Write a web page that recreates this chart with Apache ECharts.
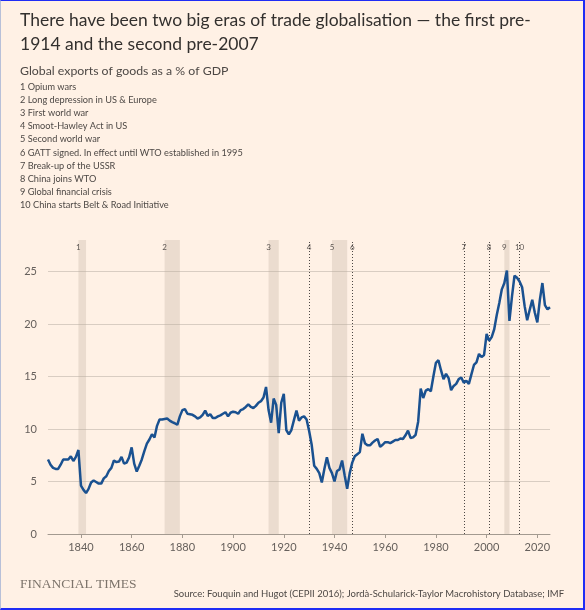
<!DOCTYPE html>
<html>
<head>
<meta charset="utf-8">
<title>Trade globalisation</title>
<script src="https://cdn.jsdelivr.net/npm/echarts@6.0.0/dist/echarts.min.js"></script>
<style>
  html, body { margin: 0; padding: 0; background: #fff1e5; }
  #chart { width: 585px; height: 610px; }
  #frame {
    position: absolute; left: 0; top: 0; width: 585px; height: 610px;
    box-sizing: border-box; pointer-events: none;
    border: 2px solid #1f2cf5; border-top-width: 1px; border-left: 1px solid #b8c0d8;
  }
</style>
</head>
<body>
<div id="chart"></div>
<div id="frame"></div>
<script>
/** data start */
var firstYear = 1827;

// global exports of goods, % of GDP, one value per year from 1827
var exportShare = [
    7.1, 6.6, 6.3,
    6.2, 6.2, 6.6, 7.1, 7.1, 7.1, 7.4, 6.95, 7.35, 8.0,
    4.6, 4.2, 3.9, 4.3, 4.9, 5.1, 4.95, 4.8, 4.8, 5.3,
    5.5, 6.0, 6.3, 7.0, 6.85, 6.9, 7.35, 6.7, 6.8, 7.3,
    8.25, 6.7, 5.95, 6.5, 7.1, 7.9, 8.6, 9.0, 9.5, 9.2,
    10.3, 10.9, 10.9, 10.95, 11.0, 10.8, 10.65, 10.55, 10.4, 11.2,
    11.8, 11.9, 11.45, 11.4, 11.35, 11.2, 11.0, 11.1, 11.35, 11.75,
    11.25, 11.4, 11.05, 11.05, 11.2, 11.3, 11.45, 11.6, 11.2, 11.55,
    11.65, 11.6, 11.45, 11.8, 11.9, 12.1, 12.35, 12.1, 12.0, 12.2,
    12.5, 12.65, 13.0, 14.0, 11.8, 10.6, 12.9, 12.3, 9.6, 12.5,
    13.35, 9.9, 9.5, 9.9, 10.85, 11.75, 10.8, 11.1, 11.2, 10.9,
    9.8, 8.5, 6.5, 6.2, 5.8, 4.9, 6.2, 7.3, 6.3, 5.8,
    5.0, 6.0, 6.15, 7.0, 5.6, 4.3, 5.8, 6.8, 7.4, 7.6,
    7.8, 9.55, 8.65, 8.45, 8.45, 8.7, 8.9, 9.05, 8.3, 8.5,
    8.75, 8.75, 8.65, 8.8, 8.95, 8.95, 9.1, 9.05, 9.4, 9.85,
    9.15, 9.2, 9.45, 10.7, 13.85, 12.95, 13.65, 13.8, 13.6, 15.0,
    16.3, 16.55, 15.6, 14.75, 15.25, 14.85, 13.7, 14.1, 14.3, 14.75,
    14.9, 14.4, 14.6, 14.3, 15.2, 16.1, 16.35, 17.15, 16.85, 17.05,
    19.05, 18.4, 18.75, 19.5, 20.85, 22.0, 23.3, 23.9, 25.1, 20.3,
    22.6, 24.6, 24.4, 24.05, 23.5, 21.7, 20.35, 21.35, 22.3, 21.1,
    20.15, 22.3, 23.9, 21.8, 21.4, 21.6
];

// shaded periods (wars, depression, crisis)
var bandStarts = [1839, 1873, 1914, 1939, 2007];
var bandEnds = [1842, 1879, 1918, 1945, 2009];

// single-year events drawn as dotted lines
var eventYears = [1930, 1947, 1991, 2001, 2013];

// numbered markers above the plot
var markerYears = [1839, 1873, 1914, 1930, 1939, 1947, 1991, 2001, 2007, 2013];
var markerNumbers = ['1', '2', '3', '4', '5', '6', '7', '8', '9', '10'];

var eventNotes = [
    '1 Opium wars',
    '2 Long depression in US & Europe',
    '3 First world war',
    '4 Smoot-Hawley Act in US',
    '5 Second world war',
    '6 GATT signed. In effect until WTO established in 1995',
    '7 Break-up of the USSR',
    '8 China joins WTO',
    '9 Global financial crisis',
    '10 China starts Belt & Road Initiative'
];

var xTicks = [1840, 1860, 1880, 1900, 1920, 1940, 1960, 1980, 2000, 2020];
var yMin = 0;
var yMax = 28;
var yStep = 5;
/** data end */

(function () {

    var FONT = 'Lato, "Noto Sans", sans-serif';
    var markerLevel = 27.25;

    var lineData = exportShare.map(function (v, i) {
        return [firstYear + i, v];
    });

    var bands = bandStarts.map(function (s, i) {
        return [{ xAxis: s }, { xAxis: bandEnds[i] }];
    });

    var events = eventYears.map(function (y) {
        return { xAxis: y };
    });

    var markers = markerYears.map(function (y, i) {
        return [y, markerLevel, markerNumbers[i]];
    });

    var option = {
        backgroundColor: '#fff1e5',
        animation: false,
        title: [
            {
                text: 'There have been two big eras of trade globalisation \u2014 the first pre-\n1914 and the second pre-2007',
                left: 20, top: 8, padding: 0,
                textStyle: { fontFamily: FONT, fontSize: 17.5, fontWeight: 'normal', color: '#33302e', lineHeight: 24.5 }
            },
            {
                text: 'Global exports of goods as a % of GDP',
                left: 20, top: 62, padding: 0,
                textStyle: { fontFamily: FONT, fontSize: 12.3, fontWeight: 'normal', color: '#4d4845', lineHeight: 18 }
            },
            {
                text: eventNotes.join('\n'),
                left: 20, top: 80, padding: 0,
                textStyle: { fontFamily: FONT, fontSize: 9.2, fontWeight: 'normal', color: '#4d4845', lineHeight: 13.2 }
            },
            {
                text: 'FINANCIAL TIMES',
                left: 20, top: 577, padding: 0,
                textStyle: { fontFamily: '"Liberation Serif", serif', fontSize: 13.5, fontWeight: 'normal', color: '#7d746b', lineHeight: 15 }
            },
            {
                text: 'Source: Fouquin and Hugot (CEPII 2016); Jord\u00e0-Schularick-Taylor Macrohistory Database; IMF',
                right: 21, top: 588, padding: 0,
                textStyle: { fontFamily: FONT, fontSize: 9.5, fontWeight: 'normal', color: '#4d4845', lineHeight: 12 }
            }
        ],
        grid: { left: 48, right: 35, top: 240, bottom: 76, containLabel: false },
        xAxis: {
            type: 'value',
            min: firstYear,
            max: firstYear + exportShare.length - 1,
            splitLine: { show: false },
            axisLine: { lineStyle: { color: '#a39a90', width: 1 } },
            axisTick: { customValues: xTicks, length: 4, lineStyle: { color: '#a39a90' } },
            axisLabel: {
                customValues: xTicks, margin: 8,
                fontFamily: FONT, fontSize: 11, color: '#66605c',
                formatter: function (v) { return String(v); }
            }
        },
        yAxis: {
            type: 'value',
            min: yMin, max: yMax, interval: yStep,
            axisLine: { show: false },
            axisTick: { show: false },
            splitLine: { showMaxLine: false, lineStyle: { color: '#d9cdc2', width: 1 } },
            axisLabel: {
                showMaxLabel: false, margin: 11,
                fontFamily: FONT, fontSize: 11, color: '#66605c'
            }
        },
        series: [
            {
                type: 'line',
                data: lineData,
                showSymbol: false,
                symbol: 'none',
                lineStyle: { color: '#1a5190', width: 2.5 },
                z: 5,
                markArea: {
                    silent: true,
                    itemStyle: { color: 'rgba(190, 172, 155, 0.3)' },
                    data: bands
                },
                markLine: {
                    silent: true,
                    symbol: ['none', 'none'],
                    label: { show: false },
                    lineStyle: { type: [1, 2], color: '#4d4845', width: 1 },
                    data: events
                }
            },
            {
                type: 'scatter',
                data: markers,
                symbolSize: 0,
                silent: true,
                z: 6,
                label: {
                    show: true,
                    position: 'inside',
                    fontFamily: FONT, fontSize: 8, color: '#33302e',
                    formatter: function (p) { return p.data[2]; }
                }
            }
        ]
    };

    var myChart = echarts.init(document.getElementById('chart'));
    myChart.setOption(option);
})();
</script>
</body>
</html>
